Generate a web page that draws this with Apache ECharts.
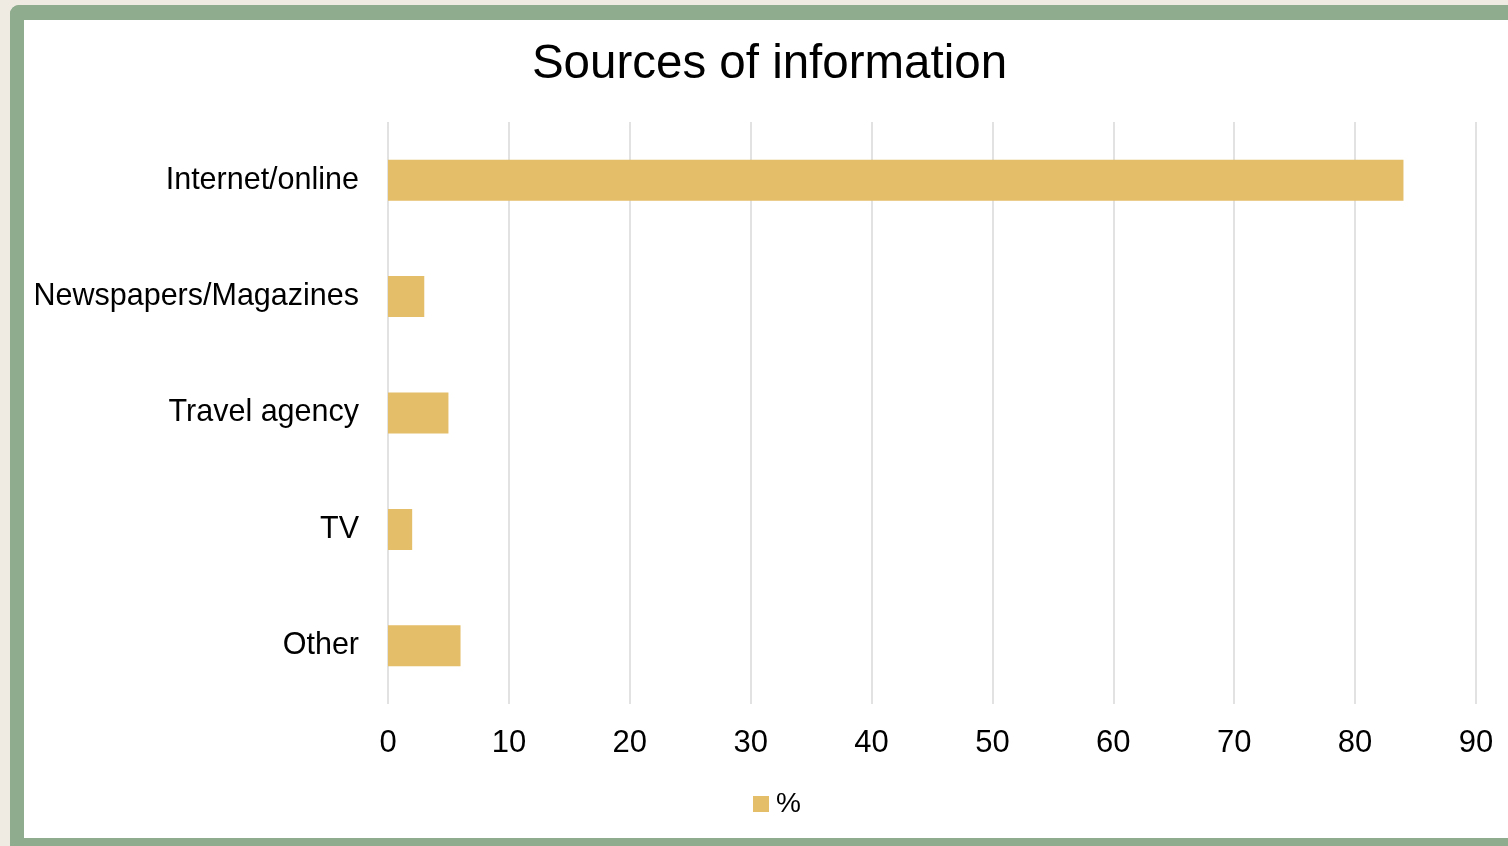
<!DOCTYPE html>
<html>
<head>
<meta charset="utf-8">
<script src="https://cdn.jsdelivr.net/npm/echarts@6/dist/echarts.min.js"></script>
<style>
  html, body { margin: 0; padding: 0; width: 1508px; height: 846px; overflow: hidden; background: #efebe3; }
  #frame { position: absolute; left: 10px; top: 5px; width: 1600px; height: 900px; box-sizing: border-box;
           border-left: 14px solid #8fac8e; border-top: 15px solid #8fac8e; border-radius: 9px 0 0 0; background: #ffffff; }
  #bottomband { position: absolute; left: 10px; top: 838px; width: 1600px; height: 20px; background: #8fac8e; }
  #chart { position: absolute; left: 0; top: 0; width: 1539px; height: 846px; }
</style>
</head>
<body>
<div id="frame"></div>
<div id="bottomband"></div>
<div id="chart"></div>
<script>
const categories = ['Internet/online', 'Newspapers/Magazines', 'Travel agency', 'TV', 'Other'];
const values = [84, 3, 5, 2, 6];
const seriesName = '%';
const titleText = 'Sources of information';

const chart = echarts.init(document.getElementById('chart'), null, { renderer: 'canvas' });
const font = '"Liberation Sans", Arial, sans-serif';
chart.setOption({
  backgroundColor: 'transparent',
  animation: false,
  title: {
    text: titleText,
    left: 'center',
    top: 36,
    textStyle: { fontFamily: font, fontSize: 47.5, fontWeight: 'normal', color: '#000000' }
  },
  legend: {
    data: [seriesName],
    left: 748,
    top: 785,
    itemWidth: 16,
    itemHeight: 16,
    icon: 'rect',
    textStyle: { fontFamily: font, fontSize: 28, color: '#000000', padding: [3, 0, 0, 2] }
  },
  grid: { left: 388, right: 1539 - 1476, top: 122, bottom: 846 - 704, containLabel: false },
  xAxis: {
    type: 'value',
    min: 0,
    max: 90,
    interval: 10,
    axisLine: { show: false },
    axisTick: { show: false },
    splitLine: { show: true, lineStyle: { color: '#d9d9d9', width: 1.5 } },
    axisLabel: { fontFamily: font, fontSize: 31, color: '#000000', margin: 24 }
  },
  yAxis: {
    type: 'category',
    data: categories,
    inverse: true,
    axisLine: { show: false },
    axisTick: { show: false },
    axisLabel: { fontFamily: font, fontSize: 30.5, color: '#000000', margin: 29, padding: [10, 0, 0, 0] }
  },
  series: [{
    name: seriesName,
    type: 'bar',
    data: values,
    barWidth: 41,
    itemStyle: { color: '#e4be69' }
  }]
});
</script>
</body>
</html>
